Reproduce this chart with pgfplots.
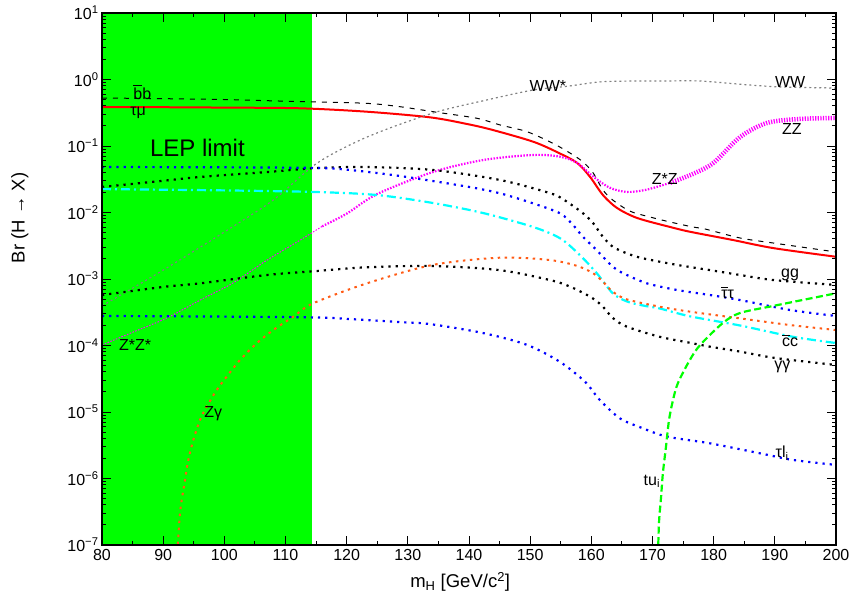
\documentclass[border=0pt]{standalone}
\usepackage{fontspec}
\setmainfont{Liberation Sans}
\usepackage{pgfplots}
\pgfplotsset{compat=1.18}
\definecolor{lepgreen}{RGB}{0,255,0}
\definecolor{zgam}{RGB}{255,90,20}
\definecolor{wwgray}{RGB}{128,128,128}
\definecolor{rcyan}{RGB}{0,255,255}
\definecolor{rmag}{RGB}{255,0,255}
\definecolor{rblue}{RGB}{0,0,255}
\definecolor{rred}{RGB}{255,0,0}
\newcommand{\lab}{\fontsize{16bp}{19bp}\selectfont}
\newcommand{\axlab}{\fontsize{18.5bp}{22bp}\selectfont}
\newcommand{\ovl}[1]{{\setbox0\hbox{#1}\rlap{\rule[\dimexpr\ht0+2.2bp\relax]{\wd0}{0.9bp}}\box0}}
\begin{document}
\begin{tikzpicture}
\begin{axis}[
  scale only axis, width=734bp, height=532bp,
  xmin=80, xmax=200, ymin=1e-7, ymax=10, ymode=log,
  axis on top, clip=true,
  axis line style={line width=1.3bp},
  every tick/.style={black, line width=1bp},
  tick align=inside, xtick pos=both, ytick pos=both,
  major tick length=9bp, minor tick length=4.5bp,
  xtick={80,90,...,200}, minor x tick num=1,
  ytick={1e-7,1e-6,1e-5,1e-4,1e-3,1e-2,1e-1,1,10},
  yticklabels={10\textsuperscript{−7},10\textsuperscript{−6},10\textsuperscript{−5},10\textsuperscript{−4},10\textsuperscript{−3},10\textsuperscript{−2},10\textsuperscript{−1},10\textsuperscript{0},10\textsuperscript{1}},
  minor ytick={2e-7,3e-7,4e-7,5e-7,6e-7,7e-7,8e-7,9e-7,2e-6,3e-6,4e-6,5e-6,6e-6,7e-6,8e-6,9e-6,2e-5,3e-5,4e-5,5e-5,6e-5,7e-5,8e-5,9e-5,2e-4,3e-4,4e-4,5e-4,6e-4,7e-4,8e-4,9e-4,0.002,0.003,0.004,0.005,0.006,0.007,0.008,0.009,0.02,0.03,0.04,0.05,0.06,0.07,0.08,0.09,0.2,0.3,0.4,0.5,0.6,0.7,0.8,0.9,2,3,4,5,6,7,8,9},
  /pgf/number format/assume math mode=true,
  tick label style={font=\lab},
  xticklabel style={yshift=-1bp},
  xlabel={m\textsubscript{H} [GeV/c\textsuperscript{2}]},
  ylabel={Br (H → X)},
  label style={font=\axlab},
  xlabel style={at={(axis description cs:0.488,-0.07)}, anchor=center},
  ylabel style={at={(axis description cs:-0.112,0.615)}, anchor=center},
  every axis plot/.append style={smooth, tension=0.5},
]
% LEP excluded region
\addplot[draw=none, fill=lepgreen, sharp plot] coordinates {(80,1e-7) (80,10) (114.4,10) (114.4,1e-7)} -- cycle;

% bb (black dashed)
\addplot[black, line width=1bp, dash pattern=on 5bp off 6bp] coordinates {
(80,0.527) (90,0.515) (100,0.500) (107,0.48) (113.5,0.463) (123.3,0.438) (128.7,0.390) (134.8,0.321) (141.3,0.261) (145.1,0.207) (149.5,0.164) (153.7,0.110) (156.5,0.0785) (158.6,0.058) (160.3,0.0393) (161.9,0.0218) (163.5,0.0154) (166.3,0.0105) (169.6,0.00855) (172.9,0.00719) (176.6,0.00605) (178.6,0.00565) (184.3,0.00414) (189.7,0.00348) (200,0.00255)};

% tau mu (red solid)
\addplot[rred, line width=2bp] coordinates {
(80,0.385) (90,0.383) (100,0.378) (112.4,0.369) (123.3,0.328) (133.6,0.270) (139.7,0.214) (143.9,0.174) (150.5,0.116) (154.6,0.0793) (157.7,0.0555) (159.8,0.0342) (161.9,0.0183) (164.2,0.0117) (167.5,0.00826) (172.9,0.00605) (176.1,0.00514) (183.2,0.00385) (189.7,0.00292) (200,0.00216)};

% WW (gray dotted)
\addplot[wwgray, line width=1.2bp, dash pattern=on 2bp off 3bp] coordinates {
(80,3.94e-4) (90,1.36e-3) (100,5.09e-3) (108,0.0154) (115.2,0.0555) (123.3,0.136) (134.1,0.313) (142.9,0.492) (150.5,0.695) (156,0.79) (161.4,0.92) (166.8,0.948) (172,0.95) (177.8,0.948) (185.9,0.826) (191.3,0.771) (200,0.745)};

% ZZ (magenta dotted, three widths)
\addplot[rmag, line width=1bp, dash pattern=on 1.5bp off 1.5bp] coordinates {
(80,1.02e-4) (85,1.58e-4) (90.6,2.59e-4) (96,4.8e-4) (101.4,8.7e-4) (107,1.93e-3) (112.4,3.85e-3) (116,6.2e-3)};
\addplot[rmag, line width=2.2bp, dash pattern=on 1.5bp off 1.5bp] coordinates {
(116,6.2e-3) (120,9.6e-3) (125,0.0190) (134.1,0.0406) (142.3,0.0615) (150.5,0.0733) (154.9,0.069) (157.7,0.0555) (160.3,0.0347) (163,0.0236) (165.8,0.0204) (169,0.022) (172.9,0.028)};
\addplot[rmag, line width=4.5bp, dash pattern=on 1.2bp off 1.4bp] coordinates {
(172.9,0.028) (176.6,0.038) (180,0.056) (184.3,0.136) (188.7,0.222) (194.1,0.255) (200,0.264)};

% gg (black dotted)
\addplot[black, line width=2.2bp, dash pattern=on 2.2bp off 5bp] coordinates {
(80,0.0242) (90,0.0300) (96,0.0342) (107,0.0406) (115.2,0.0467) (123.3,0.0483) (134.1,0.0436) (145.1,0.0308) (153.2,0.0196) (155.4,0.0158) (158.6,0.0098) (160.3,0.0069) (161.9,0.0043) (163.5,0.00306) (165.8,0.00243) (168.4,0.00205) (174,0.00163) (179.4,0.00136) (184.3,0.00115) (189.7,9.66e-4) (200,8.13e-4)};

% tautau (blue dotted)
\addplot[rblue, line width=2.2bp, dash pattern=on 2.2bp off 5bp] coordinates {
(80,0.0483) (100,0.0478) (115.2,0.0467) (120.5,0.0436) (128.7,0.0354) (139.7,0.0245) (145.1,0.0194) (150.5,0.0137) (154.9,9.7e-3) (157,6.5e-3) (158.6,4.33e-3) (160.3,3.06e-3) (161.9,2.16e-3) (163.5,1.53e-3) (165.2,1.22e-3) (169.1,8.6e-4) (174,6.84e-4) (179.4,5.74e-4) (184.3,4.83e-4) (192.5,3.42e-4) (200,2.78e-4)};

% cc (cyan dash-dot)
\addplot[rcyan, line width=2.2bp, dash pattern=on 9bp off 4bp on 2bp off 4bp] coordinates {
(80,0.0225) (100,0.0215) (115.2,0.0203) (125,0.0183) (134.1,0.0139) (142.3,0.00982) (150.5,0.00605) (154.9,0.00409) (158.1,0.0023) (160.9,0.00122) (163.5,6.1e-4) (165.8,4.6e-4) (168.4,4.0e-4) (171.2,3.6e-4) (176.1,2.75e-4) (184.3,2.0e-4) (193,1.35e-4) (200,1.09e-4)};

% Z gamma (orange dotted)
\addplot[zgam, line width=2bp, dash pattern=on 2.5bp off 4.5bp] coordinates {
(92.2,5e-8) (92.75,2.99e-7) (93.57,9.5e-7) (94.11,1.9e-6) (94.93,3.79e-6) (96.02,7.59e-6) (97.11,1.2e-5) (98.75,2.14e-5) (100.38,3.4e-5) (102.56,6.05e-5) (105.29,1.08e-4) (108,1.71e-4) (111.27,2.71e-4) (114.54,4.32e-4) (123.3,8.6e-4) (134.1,1.63e-3) (145,2.09e-3) (153.2,1.93e-3) (157.7,1.57e-3) (160.3,1.22e-3) (161.9,9.1e-4) (163.5,6.45e-4) (165.8,4.94e-4) (171.2,3.83e-4) (176.1,3.23e-4) (184.3,2.56e-4) (192.5,2.03e-4) (200,1.71e-4)};

% gamma gamma (black dotted)
\addplot[black, line width=2.2bp, dash pattern=on 2.2bp off 5bp] coordinates {
(80,5.74e-4) (90,7.6e-4) (96,8.6e-4) (107,1.15e-3) (115.1,1.32e-3) (123.3,1.5e-3) (134.1,1.57e-3) (145,1.36e-3) (153.2,9.66e-4) (156.5,7.7e-4) (159.8,5.42e-4) (161.7,4.0e-4) (163.5,2.6e-4) (165.8,1.92e-4) (171.2,1.35e-4) (176.1,1.1e-4) (179.4,9.6e-5) (184.3,8.1e-5) (190,6.5e-5) (200,5.09e-5)};

% tau l_i (blue dotted)
\addplot[rblue, line width=2.2bp, dash pattern=on 2.2bp off 5bp] coordinates {
(80,2.78e-4) (100,2.72e-4) (115,2.64e-4) (120.5,2.5e-4) (128.7,2.25e-4) (133.6,2.1e-4) (142.3,1.54e-4) (149.5,1.02e-4) (154.9,5.65e-5) (159,2.83e-5) (161.4,1.51e-5) (164.7,8.0e-6) (168.4,5.7e-6) (172.4,4.26e-6) (179.4,3.38e-6) (187.6,2.39e-6) (193,1.9e-6) (200,1.6e-6)};

% t u_i (green dashed)
\addplot[lepgreen, line width=2.2bp, dash pattern=on 7bp off 3.5bp] coordinates {
(170.85,5e-8) (171.06,2.14e-7) (171.4,5.25e-7) (171.7,1.21e-6) (172.2,2.98e-6) (172.7,7.59e-6) (173.35,1.51e-5) (174.16,2.73e-5) (176.1,6.05e-5) (177.8,1.02e-4) (181.5,2.18e-4) (184.3,3.08e-4) (189.7,3.93e-4) (200,6.1e-4)};

% labels
\node[font=\lab, inner sep=0pt] at (axis cs:86.6,0.65) {\ovl{b}b};
\node[font=\lab, inner sep=0pt] at (axis cs:85.9,0.32) {τμ};
\node[font=\fontsize{24bp}{28bp}\selectfont, inner sep=0pt] at (axis cs:95.6,0.093) {LEP limit};
\node[font=\lab, inner sep=0pt] at (axis cs:152.9,0.81) {WW*};
\node[font=\lab, inner sep=0pt] at (axis cs:192.5,0.933) {WW};
\node[font=\lab, inner sep=0pt] at (axis cs:192.8,0.183) {ZZ};
\node[font=\lab, inner sep=0pt] at (axis cs:172.0,0.0324) {Z*Z};
\node[font=\lab, inner sep=0pt] at (axis cs:192.5,1.15e-3) {gg};
\node[font=\lab, inner sep=0pt] at (axis cs:182.3,6.27e-4) {\ovl{τ}τ};
\node[font=\lab, inner sep=0pt] at (axis cs:192.5,1.19e-4) {\ovl{c}c};
\node[font=\lab, inner sep=0pt] at (axis cs:191.25,4.83e-5) {γγ};
\node[font=\lab, inner sep=0pt] at (axis cs:191.2,2.42e-6) {τl\textsubscript{i}};
\node[font=\lab, inner sep=0pt] at (axis cs:169.9,9.1e-7) {tu\textsubscript{i}};
\node[font=\lab, inner sep=0pt] at (axis cs:85.4,1.02e-4) {Z*Z*};
\node[font=\lab, inner sep=0pt] at (axis cs:98.2,9.5e-6) {Zγ};
\end{axis}
\pgfresetboundingbox
\path[use as bounding box] ([xshift=-102bp,yshift=-58bp]current axis.south west) rectangle ([xshift=17bp,yshift=13bp]current axis.north east);
\end{tikzpicture}
\end{document}
